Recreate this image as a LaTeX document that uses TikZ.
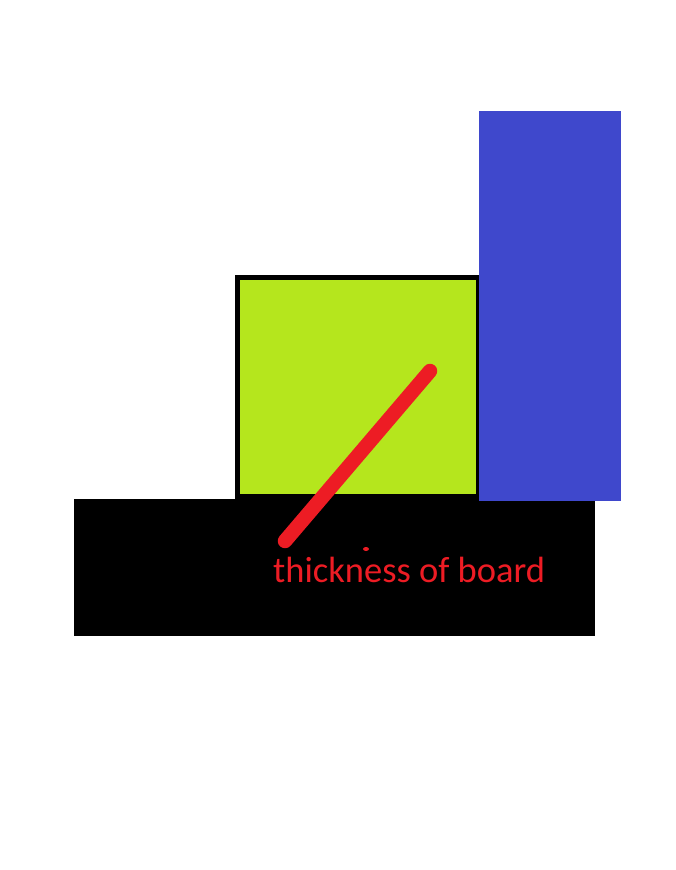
\documentclass[tikz,border=0pt]{standalone}
\usepackage{fontspec}
\newfontfamily\labelfont{Carlito}
\definecolor{boardblack}{RGB}{0,0,0}
\definecolor{blockgreen}{RGB}{181,230,29}
\definecolor{wallblue}{RGB}{63,72,204}
\definecolor{markred}{RGB}{237,28,36}

\begin{document}
\begin{tikzpicture}[x=1pt, y=-1pt]
  % page frame, pixel units, y downwards
  \useasboundingbox (0,0) rectangle (676,870);
  % corners of the shapes
  \coordinate (B1) at (74,499);
  \coordinate (B2) at (595,636);
  \coordinate (G1) at (237.5,277.5);
  \coordinate (G2) at (478.5,496.5);
  \coordinate (W1) at (479,111);
  \coordinate (W2) at (621,501);
  % ends of the red stroke
  \coordinate (P) at (285,541);
  \coordinate (Q) at (430,371);
  % board
  \fill[boardblack] (B1) rectangle (B2);
  % block
  \draw[line width=5, fill=blockgreen] (G1) rectangle (G2);
  % wall
  \fill[wallblue] (W1) rectangle (W2);
  % thickness mark
  \draw[markred, line width=14.5, line cap=round] (P) -- (Q);
  \fill[markred] (366,549) ellipse (3 and 2);
  \node[anchor=base west, inner sep=0, text=markred, font=\labelfont\fontsize{36.5}{40}\selectfont]
    (T) at (273,582) {thickness of board};
\end{tikzpicture}
\end{document}
